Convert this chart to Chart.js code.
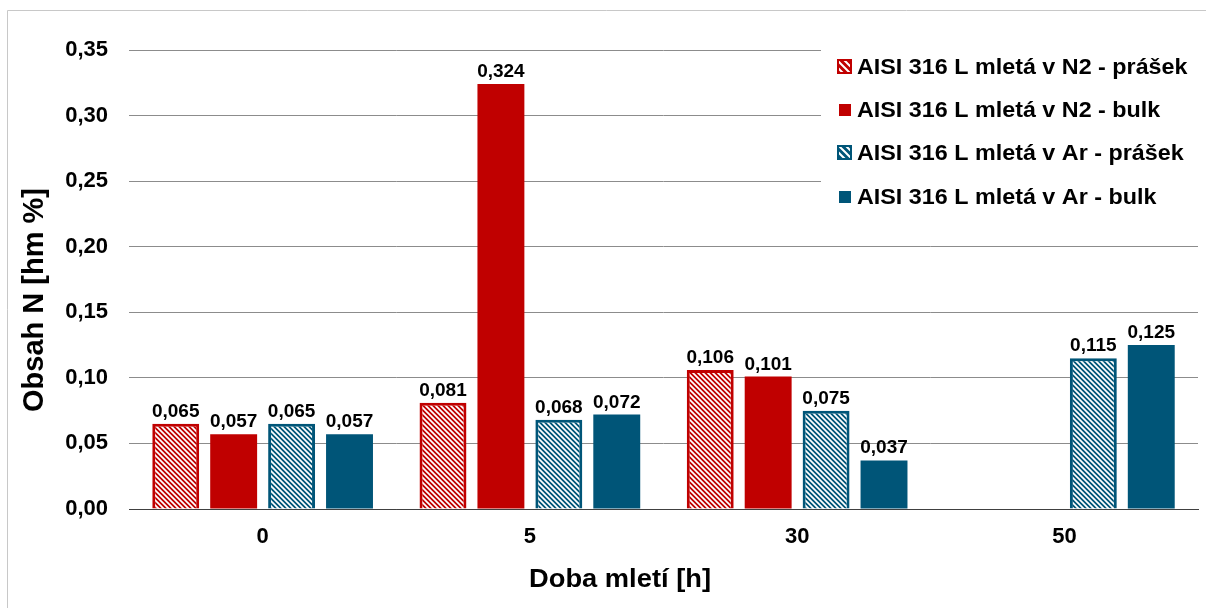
<!DOCTYPE html>
<html>
<head>
<meta charset="utf-8">
<script src="https://cdn.jsdelivr.net/npm/chart.js@4/dist/chart.umd.min.js"></script>
<style>
  html, body { margin: 0; padding: 0; background: #fff; }
  #wrap { width: 1206px; height: 608px; position: relative; }
</style>
</head>
<body>
<div id="wrap"><canvas id="c" width="1206" height="608"></canvas></div>
<script>
// Milling time categories [h]
const categories = ['0', '5', '30', '50'];

// Nitrogen content [wt %]
const n2Powder = [0.065, 0.081, 0.106, null];
const n2Bulk   = [0.057, 0.324, 0.101, null];
const arPowder = [0.065, 0.068, 0.075, 0.115];
const arBulk   = [0.057, 0.072, 0.037, 0.125];

const seriesNames = [
  'AISI 316 L mletá v N2 - prášek',
  'AISI 316 L mletá v N2 - bulk',
  'AISI 316 L mletá v Ar - prášek',
  'AISI 316 L mletá v Ar - bulk'
];

const xTitle = 'Doba mletí [h]';
const yTitle = 'Obsah N [hm %]';

const RED = '#C00000';
const BLUE = '#005578';
const FONT = "'Liberation Sans', Arial, sans-serif";

function hatch(color, size, lw) {
  const c = document.createElement('canvas');
  c.width = c.height = size;
  const g = c.getContext('2d');
  g.fillStyle = color;
  g.fillRect(0, 0, size, size);
  g.strokeStyle = '#ffffff';
  g.lineWidth = lw;
  g.beginPath();
  g.moveTo(-1, -1); g.lineTo(size + 1, size + 1);
  g.moveTo(-1, size - 1); g.lineTo(1, size + 1);
  g.moveTo(size - 1, -1); g.lineTo(size + 1, 1);
  g.stroke();
  return g.createPattern(c, 'repeat');
}

const redHatch = hatch(RED, 5, 1.7);
const blueHatch = hatch(BLUE, 5, 1.7);

const fmt = v => v.toFixed(3).replace('.', ',');

// Frame around the figure and white background
const framePlugin = {
  id: 'frame',
  beforeDraw(chart) {
    const ctx = chart.ctx;
    ctx.save();
    ctx.fillStyle = '#fff';
    ctx.fillRect(0, 0, chart.width, chart.height);
    ctx.strokeStyle = '#c8c8c8';
    ctx.lineWidth = 1;
    ctx.beginPath();
    ctx.moveTo(7.5, chart.height);
    ctx.lineTo(7.5, 10.5);
    ctx.lineTo(chart.width, 10.5);
    ctx.stroke();
    ctx.restore();
  }
};

// Axis titles
const axisTitles = {
  id: 'axisTitles',
  afterDraw(chart) {
    const ctx = chart.ctx;
    ctx.save();
    ctx.fillStyle = '#000';
    ctx.textAlign = 'center';
    ctx.textBaseline = 'middle';
    ctx.font = 'bold 26px ' + FONT;
    ctx.save();
    ctx.translate(620, 580);
    ctx.scale(1.05, 1);
    ctx.fillText(xTitle, 0, 0);
    ctx.restore();
    ctx.save();
    ctx.translate(35, 300);
    ctx.rotate(-Math.PI / 2);
    ctx.font = 'bold 29px ' + FONT;
    ctx.fillText(yTitle, 0, 0);
    ctx.restore();
    ctx.restore();
  }
};

// Value labels above bars
const valueLabels = {
  id: 'valueLabels',
  afterDatasetsDraw(chart) {
    const ctx = chart.ctx;
    ctx.save();
    ctx.font = 'bold 19px ' + FONT;
    ctx.fillStyle = '#000';
    ctx.textAlign = 'center';
    ctx.textBaseline = 'alphabetic';
    chart.data.datasets.forEach((ds, i) => {
      const meta = chart.getDatasetMeta(i);
      meta.data.forEach((bar, j) => {
        const v = ds.data[j];
        if (v === null || v === undefined) return;
        ctx.fillText(fmt(v), bar.x, bar.y - 7);
      });
    });
    ctx.restore();
  }
};

// Legend box inside the plot, top right
const legendBox = {
  id: 'legendBox',
  afterDatasetsDraw(chart) {
    const ctx = chart.ctx;
    const area = chart.chartArea;
    ctx.save();
    ctx.fillStyle = '#fff';
    ctx.fillRect(821, area.top - 5, area.right - 821, 222 - area.top);
    const rows = [67, 110, 153, 197];
    const legendHatchRed = hatch(RED, 7, 2);
    const legendHatchBlue = hatch(BLUE, 7, 2);
    chart.data.datasets.forEach((ds, i) => {
      const cy = rows[i];
      if (ds.hatched) {
        ctx.fillStyle = i === 0 ? legendHatchRed : legendHatchBlue;
        ctx.fillRect(837, cy - 8, 15, 15);
        ctx.strokeStyle = ds.borderColor;
        ctx.lineWidth = 2;
        ctx.strokeRect(838, cy - 7, 13, 13);
      } else {
        ctx.fillStyle = ds.backgroundColor;
        ctx.fillRect(839, cy - 6, 12, 12);
      }
      ctx.save();
      ctx.translate(857, cy + 1);
      ctx.scale(1.06, 1);
      ctx.fillStyle = '#000';
      ctx.font = 'bold 22px ' + FONT;
      ctx.textAlign = 'left';
      ctx.textBaseline = 'middle';
      ctx.fillText(ds.label, 0, 0);
      ctx.restore();
    });
    ctx.restore();
  }
};

const ctx = document.getElementById('c').getContext('2d');
new Chart(ctx, {
  type: 'bar',
  data: {
    labels: categories,
    datasets: [
      { label: seriesNames[0], data: n2Powder, backgroundColor: redHatch, borderColor: RED, borderWidth: 3, hatched: true },
      { label: seriesNames[1], data: n2Bulk, backgroundColor: RED, borderWidth: 0 },
      { label: seriesNames[2], data: arPowder, backgroundColor: blueHatch, borderColor: BLUE, borderWidth: 3, hatched: true },
      { label: seriesNames[3], data: arBulk, backgroundColor: BLUE, borderWidth: 0 }
    ]
  },
  options: {
    responsive: false,
    animation: false,
    devicePixelRatio: 1,
    layout: { padding: { top: 50, right: 8, left: 0, bottom: 0 } },
    datasets: { bar: { categoryPercentage: 0.867, barPercentage: 0.81 } },
    plugins: {
      legend: { display: false },
      tooltip: { enabled: false }
    },
    scales: {
      x: {
        grid: { display: false, drawTicks: false },
        border: { display: true, color: '#404040', width: 1 },
        ticks: { color: '#000', font: { family: FONT, size: 22, weight: 'bold' }, padding: 15 },
        title: { display: false },
        afterFit(scale) { scale.height = 99; }
      },
      y: {
        min: 0, max: 0.35,
        grid: {
          drawTicks: false,
          color: c => (c.tick && c.tick.value === 0) ? '#404040' : '#8c8c8c',
          lineWidth: 1
        },
        border: { display: false },
        ticks: {
          stepSize: 0.05, color: '#000', padding: 21,
          font: { family: FONT, size: 22, weight: 'bold' },
          callback: v => v.toFixed(2).replace('.', ',')
        },
        title: { display: false },
        afterFit(scale) { scale.width = 129; }
      }
    }
  },
  plugins: [framePlugin, valueLabels, legendBox, axisTitles]
});
</script>
</body>
</html>
